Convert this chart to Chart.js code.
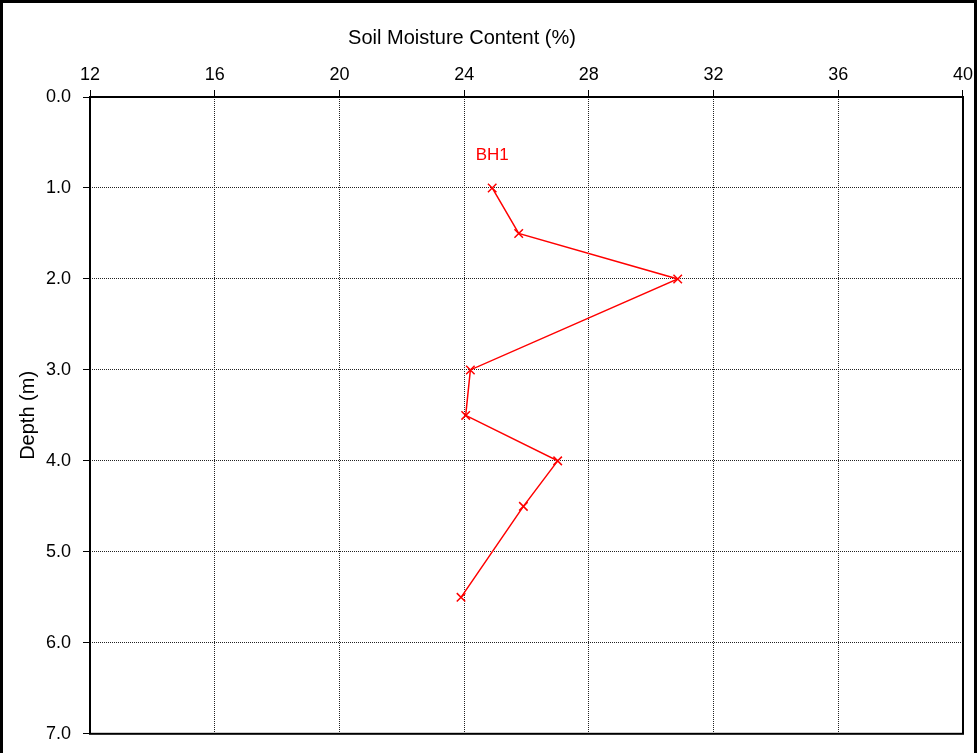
<!DOCTYPE html>
<html>
<head>
<meta charset="utf-8">
<script src="https://cdn.jsdelivr.net/npm/chart.js@4.4.0/dist/chart.umd.min.js"></script>
<style>
  body { margin: 0; background: #fff; }
  #wrap { width: 977px; height: 753px; }
</style>
</head>
<body>
<div id="wrap"><canvas id="grafico" width="977" height="753"></canvas></div>
<script>
// dados
const umidade = [24.9, 25.75, 30.85, 24.2, 24.05, 27.0, 25.9, 23.9];
const profundidade = [1.0, 1.5, 2.0, 3.0, 3.5, 4.0, 4.5, 5.5];
const furo = "BH1";
const tituloX = "Soil Moisture Content (%)";
const tituloY = "Depth (m)";

const fonte = "'Liberation Sans', Arial, sans-serif";

const pontos = umidade.map((u, i) => ({ x: u, y: profundidade[i] }));

const moldura = {
    id: 'moldura',
    beforeDraw(chart) {
        const ctx = chart.ctx;
        ctx.save();
        ctx.fillStyle = '#fff';
        ctx.fillRect(0, 0, chart.width, chart.height);
        ctx.strokeStyle = '#000';
        ctx.lineWidth = 3;
        ctx.strokeRect(1.5, 1.5, chart.width - 3, chart.height + 10);
        ctx.restore();
    },
    afterDraw(chart) {
        const ctx = chart.ctx;
        const a = chart.chartArea;
        ctx.save();
        ctx.strokeStyle = '#000';
        ctx.lineWidth = 2;
        ctx.strokeRect(a.left, a.top, a.right - a.left, a.bottom - a.top);
        // titulo do eixo x
        ctx.fillStyle = '#000';
        ctx.font = "20px " + fonte;
        ctx.textAlign = 'center';
        ctx.textBaseline = 'middle';
        ctx.fillText(tituloX, 462, 38);
        // rotulo da serie
        const xs = chart.scales.x, ys = chart.scales.y;
        ctx.fillStyle = '#ff0000';
        ctx.font = "17px " + fonte;
        ctx.fillText(furo, xs.getPixelForValue(umidade[0]), ys.getPixelForValue(profundidade[0]) - 33);
        ctx.restore();
    }
};

new Chart(document.getElementById("grafico"), {
    type: 'scatter',
    data: {
        datasets: [
            {
                label: furo,
                data: pontos,
                showLine: true,
                borderColor: "#ff0000",
                backgroundColor: "#ff0000",
                borderWidth: 1.5,
                pointStyle: 'crossRot',
                pointRadius: 6,
                pointBorderWidth: 1.5
            }
        ]
    },
    plugins: [moldura],
    options: {
        responsive: false,
        animation: false,
        layout: {
            padding: { left: 0, right: 11, top: 0, bottom: 18 }
        },
        plugins: {
            legend: { display: false },
            tooltip: { enabled: false }
        },
        scales: {
            x: {
                type: 'linear',
                position: 'top',
                min: 12,
                max: 40,
                afterFit: (s) => { s.height = 97; },
                ticks: {
                    stepSize: 4,
                    color: '#000',
                    padding: 4,
                    font: { family: fonte, size: 18 }
                },
                grid: {
                    color: '#222',
                    tickLength: 7,
                    tickColor: '#000',
                    tickBorderDash: []
                },
                border: { display: false, dash: [1, 1] }
            },
            y: {
                type: 'linear',
                reverse: true,
                min: 0,
                max: 7,
                afterFit: (s) => { s.width = 90; },
                ticks: {
                    stepSize: 1,
                    color: '#000',
                    padding: 12,
                    font: { family: fonte, size: 18, lineHeight: 0.8 },
                    callback: (v) => v.toFixed(1)
                },
                grid: {
                    color: '#222',
                    tickLength: 7,
                    tickColor: '#000',
                    tickBorderDash: []
                },
                border: { display: false, dash: [1, 1] },
                title: {
                    display: true,
                    text: tituloY,
                    color: '#000',
                    padding: { top: 16, bottom: 0 },
                    font: { family: fonte, size: 20 }
                }
            }
        }
    }
});
</script>
</body>
</html>
